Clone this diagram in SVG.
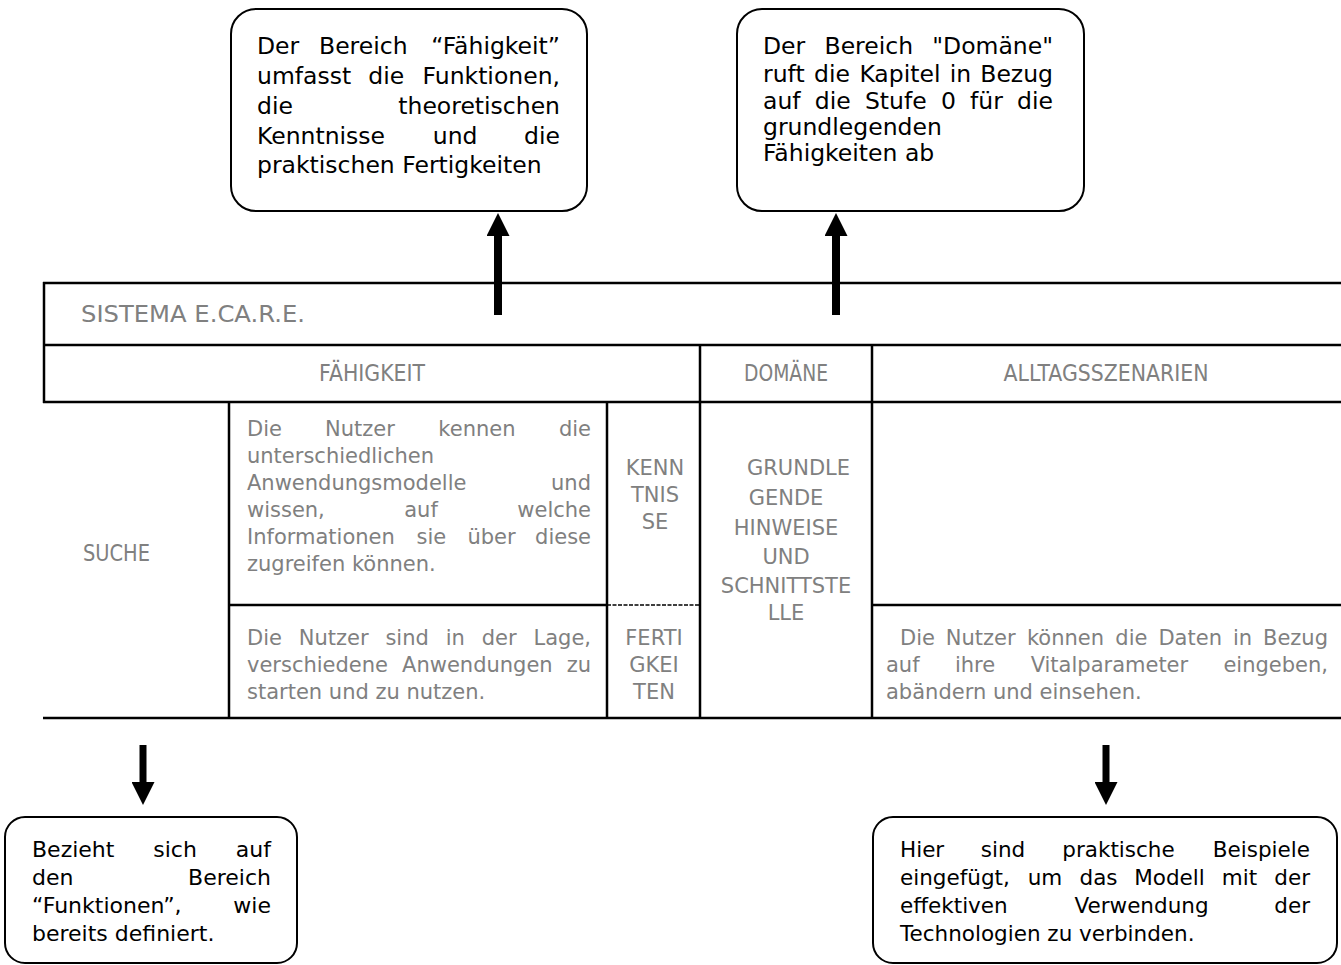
<svg xmlns="http://www.w3.org/2000/svg" width="1341" height="965" viewBox="0 0 1341 965">
<style>
text{font-family:"DejaVu Sans",Verdana,sans-serif}
.cl{font-size:23.5px;fill:#000}
.cs{font-size:22px;fill:#000}
.cr{font-size:21.5px;fill:#000}
.g{font-size:21px;fill:#808080}
.h{font-size:23px;fill:#808080}
.m{text-anchor:middle}
.e{text-anchor:end}
.box{fill:#fff;stroke:#000;stroke-width:2}
.tl{stroke:#000;stroke-width:2.5;fill:none}
.ar{stroke:#000;fill:none}
</style>
<defs>
<marker id="ah" viewBox="0 0 24 24" markerWidth="23" markerHeight="23" markerUnits="userSpaceOnUse" refX="0" refY="12" orient="auto">
<path d="M0,0 L24,12 L0,24 z" fill="#000"/>
</marker>
</defs>
<rect width="1341" height="965" fill="#fff"/>

<g id="table">
<g id="table-lines">
<line class="tl" x1="43" y1="283" x2="1341" y2="283"/>
<line class="tl" x1="43" y1="345" x2="1341" y2="345"/>
<line class="tl" x1="43" y1="402" x2="1341" y2="402"/>
<line class="tl" x1="229" y1="605" x2="607" y2="605"/>
<line x1="607" y1="605" x2="700" y2="605" stroke="#000" stroke-width="1.5" stroke-dasharray="4 1.5"/>
<line class="tl" x1="872" y1="605" x2="1341" y2="605"/>
<line class="tl" x1="43" y1="718" x2="1341" y2="718"/>
<line class="tl" x1="44" y1="282" x2="44" y2="403"/>
<line class="tl" x1="700" y1="345" x2="700" y2="718"/>
<line class="tl" x1="872" y1="345" x2="872" y2="718"/>
<line class="tl" x1="229" y1="402" x2="229" y2="718"/>
<line class="tl" x1="607" y1="402" x2="607" y2="718"/>
</g>
<g id="cell-sistema"><text class="h" x="81" y="322" textLength="224" lengthAdjust="spacingAndGlyphs">SISTEMA E.CA.R.E.</text></g>
<g id="cell-faehigkeit"><text class="h m" x="372" y="381" textLength="106" lengthAdjust="spacingAndGlyphs">FÄHIGKEIT</text></g>
<g id="cell-domaene"><text class="h m" x="786" y="381" textLength="84" lengthAdjust="spacingAndGlyphs">DOMÄNE</text></g>
<g id="cell-alltag"><text class="h m" x="1106" y="381" textLength="205" lengthAdjust="spacingAndGlyphs">ALLTAGSSZENARIEN</text></g>
<g id="cell-suche"><text class="h" x="83" y="561" textLength="67" lengthAdjust="spacingAndGlyphs">SUCHE</text></g>
<g id="cell-kenntnisse-text">
<text class="g" x="247" y="436">Die</text><text class="g m" x="359.9" y="436">Nutzer</text><text class="g m" x="476.9" y="436">kennen</text><text class="g e" x="591" y="436">die</text>
<text class="g" x="247" y="463">unterschiedlichen</text>
<text class="g" x="247" y="490">Anwendungsmodelle</text><text class="g e" x="591" y="490">und</text>
<text class="g" x="247" y="517">wissen,</text><text class="g m" x="421" y="517">auf</text><text class="g e" x="591" y="517">welche</text>
<text class="g" x="247" y="544">Informationen</text><text class="g m" x="431.4" y="544">sie</text><text class="g m" x="491.6" y="544">über</text><text class="g e" x="591" y="544">diese</text>
<text class="g" x="247" y="571">zugreifen können.</text>
</g>
<g id="cell-kenntnisse">
<text class="g m" x="655" y="475">KENN</text>
<text class="g m" x="655" y="502">TNIS</text>
<text class="g m" x="655" y="529">SE</text>
</g>
<g id="cell-fertigkeiten">
<text class="g m" x="654" y="645">FERTI</text>
<text class="g m" x="654" y="672">GKEI</text>
<text class="g m" x="654" y="699">TEN</text>
</g>
<g id="cell-grundlegend">
<text class="g" x="747" y="475">GRUNDLE</text>
<text class="g m" x="786" y="505">GENDE</text>
<text class="g m" x="786" y="535">HINWEISE</text>
<text class="g m" x="786" y="564">UND</text>
<text class="g m" x="786" y="593">SCHNITTSTE</text>
<text class="g m" x="786" y="620">LLE</text>
</g>
<g id="cell-fertigkeiten-text">
<text class="g" x="247" y="645">Die</text><text class="g m" x="333.7" y="645">Nutzer</text><text class="g m" x="407.1" y="645">sind</text><text class="g m" x="455.3" y="645">in</text><text class="g m" x="499.2" y="645">der</text><text class="g e" x="591" y="645">Lage,</text>
<text class="g" x="247" y="672">verschiedene</text><text class="g m" x="477.4" y="672">Anwendungen</text><text class="g e" x="591" y="672">zu</text>
<text class="g" x="247" y="699">starten und zu nutzen.</text>
</g>
<g id="cell-szenario-text">
<text class="g" x="900" y="645">Die</text><text class="g m" x="980.7" y="645">Nutzer</text><text class="g m" x="1065.5" y="645">können</text><text class="g m" x="1131.4" y="645">die</text><text class="g m" x="1190.2" y="645">Daten</text><text class="g m" x="1242.5" y="645">in</text><text class="g e" x="1328" y="645">Bezug</text>
<text class="g" x="886" y="672">auf</text><text class="g m" x="975" y="672">ihre</text><text class="g m" x="1109.4" y="672">Vitalparameter</text><text class="g e" x="1328" y="672">eingeben,</text>
<text class="g" x="886" y="699">abändern und einsehen.</text>
</g>
</g>

<g id="connectors">
<line class="ar" x1="498" y1="315" x2="498" y2="236" stroke-width="8" marker-end="url(#ah)"/>
<line class="ar" x1="836" y1="315" x2="836" y2="236" stroke-width="8" marker-end="url(#ah)"/>
<line class="ar" x1="143" y1="745" x2="143" y2="782" stroke-width="7" marker-end="url(#ah)"/>
<line class="ar" x1="1106" y1="745" x2="1106" y2="782" stroke-width="7" marker-end="url(#ah)"/>
</g>

<g id="callout-faehigkeit">
<rect class="box" x="231" y="9" width="356" height="202" rx="25"/>
<text class="cl" x="257" y="54">Der</text><text class="cl m" x="363.3" y="54">Bereich</text><text class="cl e" x="560" y="54">“Fähigkeit”</text>
<text class="cl" x="257" y="84">umfasst</text><text class="cl m" x="386.2" y="84">die</text><text class="cl e" x="560" y="84">Funktionen,</text>
<text class="cl" x="257" y="114">die</text><text class="cl e" x="560" y="114">theoretischen</text>
<text class="cl" x="257" y="144">Kenntnisse</text><text class="cl m" x="455.2" y="144">und</text><text class="cl e" x="560" y="144">die</text>
<text class="cl" x="257" y="173">praktischen Fertigkeiten</text>
</g>

<g id="callout-domaene">
<rect class="box" x="737" y="9" width="347" height="202" rx="25"/>
<text class="cl" x="763" y="54">Der</text><text class="cl m" x="868.8" y="54">Bereich</text><text class="cl e" x="1053" y="54">"Domäne"</text>
<text class="cl" x="763" y="82">ruft</text><text class="cl m" x="832" y="82">die</text><text class="cl m" x="899.9" y="82">Kapitel</text><text class="cl m" x="960.4" y="82">in</text><text class="cl e" x="1053" y="82">Bezug</text>
<text class="cl" x="763" y="109">auf</text><text class="cl m" x="832.8" y="109">die</text><text class="cl m" x="895.8" y="109">Stufe</text><text class="cl m" x="948.4" y="109">0</text><text class="cl m" x="986.5" y="109">für</text><text class="cl e" x="1053" y="109">die</text>
<text class="cl" x="763" y="135">grundlegenden</text>
<text class="cl" x="763" y="161">Fähigkeiten ab</text>
</g>

<g id="callout-funktionen">
<rect class="box" x="5" y="817" width="292" height="146" rx="20"/>
<text class="cs" x="32" y="857">Bezieht</text><text class="cs m" x="175.1" y="857">sich</text><text class="cs e" x="271" y="857">auf</text>
<text class="cs" x="32" y="885">den</text><text class="cs e" x="271" y="885">Bereich</text>
<text class="cs" x="32" y="913">“Funktionen”,</text><text class="cs e" x="271" y="913">wie</text>
<text class="cs" x="32" y="941">bereits definiert.</text>
</g>

<g id="callout-szenarien">
<rect class="box" x="873" y="817" width="464" height="146" rx="20"/>
<text class="cr" x="900" y="857">Hier</text><text class="cr m" x="1003" y="857">sind</text><text class="cr m" x="1118.5" y="857">praktische</text><text class="cr e" x="1310" y="857">Beispiele</text>
<text class="cr" x="900" y="885">eingefügt,</text><text class="cr m" x="1045" y="885">um</text><text class="cr m" x="1098.5" y="885">das</text><text class="cr m" x="1169.5" y="885">Modell</text><text class="cr m" x="1239.5" y="885">mit</text><text class="cr e" x="1310" y="885">der</text>
<text class="cr" x="900" y="913">effektiven</text><text class="cr m" x="1141.5" y="913">Verwendung</text><text class="cr e" x="1310" y="913">der</text>
<text class="cr" x="900" y="941">Technologien zu verbinden.</text>
</g>
</svg>
